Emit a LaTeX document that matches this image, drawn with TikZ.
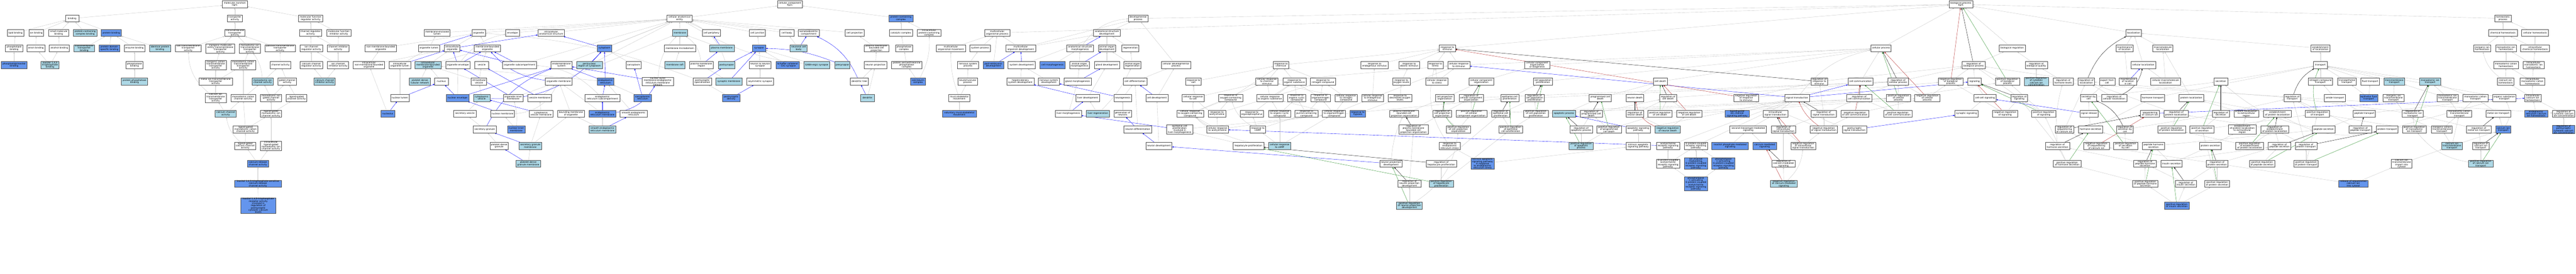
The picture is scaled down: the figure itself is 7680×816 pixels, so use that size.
\documentclass[tikz,border=0pt]{standalone}
\usepackage{fontspec}
\setmainfont{DejaVu Sans}
\usetikzlibrary{arrows.meta}
\definecolor{lbcol}{HTML}{ADD8E6}
\definecolor{blcol}{HTML}{6495ED}
\definecolor{egray}{HTML}{C4C4C4}
\definecolor{redc}{HTML}{B22222}
\definecolor{greenc}{HTML}{228B22}
\newcommand{\gofont}{\fontsize{6.8}{6.6}\selectfont}
\newcommand{\gon}[6]{\node[#5, minimum width=#4pt] (#1) at (#2,#3) {#6};}
\pgfdeclarelayer{edgelayer}
\pgfsetlayers{edgelayer,main}
\tikzset{
 gn/.style={draw=black!70, line width=0.9pt, fill=white, font=\gofont, align=center, inner xsep=1pt, inner ysep=0.3pt, minimum height=21pt},
 wn/.style={gn}, lbn/.style={gn, fill=lbcol}, bln/.style={gn, fill=blcol},
 e/.style={draw=egray, line width=0.6pt, -{Triangle[length=4.5pt,width=3.6pt]}},
 eb/.style={e, draw=blue}, er/.style={e, draw=redc}, eg/.style={e, draw=greenc}, ek/.style={e, draw=black}
}
\begin{document}
\begin{tikzpicture}[x=1pt,y=-1pt]
\useasboundingbox (0,0) rectangle (7680,816);
% ---------------- molecular function
\gon{mf}{700}{13}{74}{wn}{molecular\_function\\Itpr1}
\gon{bind}{215}{55}{40}{wn}{binding}
\gon{trans}{700}{55}{44}{wn}{transporter\\activity}
\gon{mfreg}{926}{55}{71}{wn}{molecular function\\regulator activity}
\gon{lipb}{46}{98}{49}{wn}{lipid binding}
\gon{ionb}{108}{98}{44}{wn}{ion binding}
\gon{smb}{175}{98}{60}{wn}{small molecule\\binding}
\gon{pccb}{254}{98}{71}{lbn}{protein-containing\\complex binding}
\gon{protb}{332}{98}{60}{bln}{protein binding}
\gon{tmta}{700}{98}{61}{wn}{transmembrane\\transporter\\activity}
\gon{chreg}{926}{98}{67}{wn}{channel regulator\\activity}
\gon{mfinh}{1010}{98}{72}{wn}{molecular function\\inhibitor activity}
\gon{melum}{1303}{98}{78}{wn}{membrane-enclosed\\lumen}
\gon{orgnl}{1427}{98}{40}{wn}{organelle}
\gon{env}{1528}{98}{42}{wn}{envelope}
\gon{ias}{1643}{98}{79}{wn}{intracellular\\anatomical structure}
\gon{plb}{42}{144}{51}{wn}{phospholipid\\binding}
\gon{anb}{107}{144}{53}{wn}{anion binding}
\gon{alcb}{177}{144}{60}{wn}{alcohol binding}
\gon{tmtb}{251}{144}{62}{lbn}{transmembrane\\transporter\\binding}
\gon{pdsb}{326}{144}{61}{bln}{protein domain\\specific binding}
\gon{enzb}{401}{144}{62}{wn}{enzyme binding}
\gon{idpb}{477}{144}{63}{lbn}{identical protein\\binding}
\gon{salt}{561}{144}{78}{wn}{salt transmembrane\\transporter\\activity}
\gon{imeta}{657}{145}{86}{wn}{inorganic molecular\\entity transmembrane\\transporter\\activity}
\gon{mita}{745}{145}{63}{wn}{monoatomic ion\\transmembrane\\transporter\\activity}
\gon{ptta}{835}{144}{91}{wn}{passive transmembrane\\transporter\\activity}
\gon{icra}{928}{144}{67}{wn}{ion channel\\regulator activity}
\gon{chinh}{1008}{144}{64}{wn}{channel inhibitor\\activity}
\gon{nmbo}{1135}{144}{93}{wn}{non-membrane-bounded\\organelle}
\gon{orglum}{1279}{144}{64}{wn}{organelle lumen}
\gon{iorg}{1348}{144}{46}{wn}{intracellular\\organelle}
\gon{mbo}{1453}{144}{78}{wn}{membrane-bounded\\organelle}
\gon{cyto}{1802}{144}{43}{bln}{cytoplasm}
\gon{phib}{42}{194}{78}{bln}{phosphatidylinositol\\binding}
\gon{ip3b}{149}{194}{53}{lbn}{inositol 1,4,5\\trisphosphate\\binding}
\gon{phosb}{401}{194}{51}{wn}{phosphatase\\binding}
\gon{icta}{643}{194}{62}{wn}{inorganic cation\\transmembrane\\transporter\\activity}
\gon{mcta}{725}{194}{74}{wn}{monoatomic cation\\transmembrane\\transporter\\activity}
\gon{cha}{836}{194}{62}{wn}{channel activity}
\gon{ccra}{928}{194}{67}{wn}{calcium channel\\regulator activity}
\gon{icia}{1008}{194}{63}{wn}{ion channel\\inhibitor activity}
\gon{inmbo}{1100}{194}{94}{wn}{intracellular\\non-membrane-bounded\\organelle}
\gon{iol}{1192}{194}{64}{wn}{intracellular\\organelle lumen}
\gon{imbo}{1276}{194}{78}{lbn}{intracellular\\membrane-bounded\\organelle}
\gon{oenv}{1365}{194}{73}{wn}{organelle envelope}
\gon{ves}{1436}{194}{41}{wn}{vesicle}
\gon{osub}{1549}{194}{102}{wn}{organelle subcompartment}
\gon{ems}{1674}{194}{62}{wn}{endomembrane\\system}
\gon{pnr}{1757}{194}{77}{lbn}{perinuclear\\region of cytoplasm}
\gon{sarcp}{1889}{194}{45}{wn}{sarcoplasm}
\gon{ppb}{401}{243}{78}{lbn}{protein phosphatase\\binding}
\gon{mitr}{643}{243}{99}{wn}{metal ion transmembrane\\transporter\\activity}
\gon{mica}{783}{243}{63}{lbn}{monoatomic ion\\channel activity}
\gon{gca}{856}{243}{55}{wn}{gated channel\\activity}
\gon{ccia}{968}{243}{63}{lbn}{calcium channel\\inhibitor activity}
\gon{pdtn}{1252}{243}{63}{lbn}{platelet dense\\tubular network}
\gon{nucl}{1316}{243}{40}{wn}{nucleus}
\gon{ives}{1428}{243}{46}{wn}{intracellular\\vesicle}
\gon{omem}{1666}{243}{80}{wn}{organelle membrane}
\gon{er}{1805}{243}{49}{bln}{endoplasmic\\reticulum}
\gon{nomer}{1961}{243}{93}{wn}{nuclear outer\\membrane-endoplasmic\\reticulum membrane\\network}
\gon{catia}{643}{292}{62}{wn}{calcium ion\\transmembrane\\transporter\\activity}
\gon{mcca}{725}{292}{74}{wn}{monoatomic cation\\channel activity}
\gon{migca}{808}{292}{63}{wn}{monoatomic ion\\gated channel\\activity}
\gon{lgca}{884}{292}{62}{wn}{ligand-gated\\channel activity}
\gon{nlum}{1192}{292}{56}{wn}{nuclear lumen}
\gon{nenv}{1364}{292}{67}{bln}{nuclear envelope}
\gon{cves}{1436}{292}{49}{lbn}{cytoplasmic\\vesicle}
\gon{oim}{1530}{292}{59}{wn}{organelle inner\\membrane}
\gon{vmem}{1609}{292}{71}{wn}{vesicle membrane}
\gon{ersub}{1796}{292}{103}{wn}{endoplasmic\\reticulum subcompartment}
\gon{sr}{1916}{292}{52}{bln}{sarcoplasmic\\reticulum}
\gon{cca}{673}{339}{63}{lbn}{calcium channel\\activity}
\gon{lgmica}{808}{339}{63}{wn}{ligand-gated\\monoatomic ion\\channel activity}
\gon{nucleolus}{1156}{339}{41}{bln}{nucleolus}
\gon{sves}{1386}{339}{67}{wn}{secretory vesicle}
\gon{nmem}{1498}{339}{72}{wn}{nuclear membrane}
\gon{cvm}{1613}{339}{71}{wn}{cytoplasmic\\vesicle membrane}
\gon{bmo}{1702}{339}{80}{wn}{bounding membrane\\of organelle}
\gon{erm}{1796}{339}{81}{bln}{endoplasmic\\reticulum membrane}
\gon{ser}{1889}{339}{80}{wn}{smooth endoplasmic\\reticulum}
\gon{lgmcca}{732}{386}{74}{wn}{ligand-gated\\monoatomic cation\\channel activity}
\gon{sgran}{1445}{386}{69}{wn}{secretory granule}
\gon{nim}{1539}{386}{52}{bln}{nuclear inner\\membrane}
\gon{serm}{1796}{386}{81}{lbn}{smooth endoplasmic\\reticulum membrane}
\gon{lgcca}{731}{435}{62}{wn}{ligand-gated\\calcium channel\\activity}
\gon{ilgmica}{808}{435}{63}{wn}{intracellular\\ligand-gated\\monoatomic ion\\channel activity}
\gon{pdg}{1488}{435}{55}{wn}{platelet dense\\granule}
\gon{sgm}{1581}{435}{68}{lbn}{secretory granule\\membrane}
\gon{crca}{769}{488}{62}{bln}{calcium-release\\channel activity}
\gon{pdgm}{1575}{488}{73}{lbn}{platelet dense\\granule membrane}
\gon{ip3s}{769}{548}{139}{bln}{inositol 1,4,5-trisphosphate-sensitive\\calcium-release\\channel activity}
\gon{ip3r}{770}{613}{103}{bln}{inositol 1,4,5-trisphosphate\\receptor activity\\involved in\\regulation of\\postsynaptic\\cytosolic calcium\\levels}
% ---------------- cellular component
\gon{cc}{2355}{13}{75}{wn}{cellular\_component\\Itpr1}
\gon{cae}{2026}{55}{75}{wn}{cellular anatomical\\entity}
\gon{pcc}{2686}{55}{71}{bln}{protein-containing\\complex}
\gon{mem}{2027}{98}{44}{lbn}{membrane}
\gon{cper}{2121}{98}{53}{wn}{cell periphery}
\gon{cjun}{2258}{98}{48}{wn}{cell junction}
\gon{cbody}{2346}{98}{42}{wn}{cell body}
\gon{sdc}{2411}{98}{63}{wn}{somatodendritic\\compartment}
\gon{cproj}{2548}{98}{56}{wn}{cell projection}
\gon{catc}{2686}{98}{69}{wn}{catalytic complex}
\gon{ipcc}{2770}{98}{71}{wn}{intracellular\\protein-containing\\complex}
\gon{mmd}{2027}{144}{93}{wn}{membrane microdomain}
\gon{pm}{2152}{144}{73}{lbn}{plasma membrane}
\gon{syn}{2263}{144}{40}{bln}{synapse}
\gon{ncb}{2381}{144}{51}{lbn}{neuronal cell\\body}
\gon{pmbcp}{2613}{144}{73}{wn}{plasma membrane\\bounded cell\\projection}
\gon{phc}{2695}{144}{50}{wn}{phosphatase\\complex}
\gon{mraft}{2012}{194}{59}{lbn}{membrane raft}
\gon{pmr}{2091}{194}{72}{wn}{plasma membrane\\region}
\gon{psyn}{2166}{194}{49}{lbn}{postsynapse}
\gon{nns}{2266}{194}{66}{wn}{neuron to neuron\\synapse}
\gon{scs}{2348}{194}{69}{bln}{Schaffer collateral\\- CA1 synapse}
\gon{gaba}{2435}{194}{78}{lbn}{GABA-ergic synapse}
\gon{presyn}{2511}{194}{45}{lbn}{presynapse}
\gon{nproj}{2610}{194}{68}{wn}{neuron projection}
\gon{pstpc}{2703}{194}{92}{wn}{protein serine/threonine\\phosphatase\\complex}
\gon{pss}{2094}{243}{55}{wn}{postsynaptic\\specialization}
\gon{smem}{2173}{243}{77}{lbn}{synaptic membrane}
\gon{asyn}{2266}{243}{80}{wn}{asymmetric synapse}
\gon{dtree}{2562}{243}{53}{wn}{dendritic tree}
\gon{calcin}{2737}{243}{44}{bln}{calcineurin\\complex}
\gon{psd}{2180}{292}{51}{bln}{postsynaptic\\density}
\gon{dend}{2586}{292}{42}{lbn}{dendrite}
% ---------------- biological process
\gon{bp}{5846}{13}{71}{wn}{biological\_process\\Itpr1}
\gon{mop}{2973}{98}{75}{wn}{multicellular\\organismal process}
\gon{dp}{3393}{55}{58}{wn}{developmental\\process}
\gon{mom}{2835}{144}{87}{wn}{multicellular\\organismal movement}
\gon{sysp}{2922}{144}{61}{wn}{system process}
\gon{mod}{3043}{144}{89}{wn}{multicellular\\organism development}
\gon{asd}{3300}{98}{80}{wn}{anatomical structure\\development}
\gon{asm}{3220}{144}{80}{wn}{anatomical structure\\morphogenesis}
\gon{aod}{3300}{144}{51}{wn}{animal organ\\development}
\gon{regen}{3370}{144}{50}{wn}{regeneration}
\gon{rstim}{4315}{144}{48}{wn}{response to\\stimulus}
\gon{nsp}{2886}{194}{63}{wn}{nervous system\\process}
\gon{ped}{2962}{194}{61}{bln}{post-embryonic\\development}
\gon{sysd}{3046}{194}{82}{wn}{system development}
\gon{cmorph}{3138}{194}{76}{bln}{cell morphogenesis}
\gon{aom}{3218}{194}{59}{wn}{animal organ\\morphogenesis}
\gon{glandd}{3300}{194}{75}{wn}{gland development}
\gon{aor}{3376}{194}{51}{wn}{animal organ\\regeneration}
\gon{cdp}{3506}{194}{87}{wn}{cellular developmental\\process}
\gon{rchem}{3819}{194}{46}{wn}{response to\\chemical}
\gon{resti}{4098}{194}{81}{wn}{response to\\endogenous stimulus}
\gon{rabio}{4201}{194}{62}{wn}{response to\\abiotic stimulus}
\gon{rstress}{4279}{194}{46}{wn}{response to\\stress}
\gon{crstim}{4349}{194}{66}{wn}{cellular response\\to stimulus}
\gon{ccob}{4583}{194}{74}{wn}{cellular component\\organization\\or biogenesis}
\gon{nmp}{2885}{243}{57}{wn}{neuromuscular\\process}
\gon{hbsd}{3042}{243}{81}{wn}{hepaticobiliary\\system development}
\gon{nsd}{3127}{243}{63}{wn}{nervous system\\development}
\gon{gmorph}{3213}{243}{82}{wn}{gland morphogenesis}
\gon{cdiff}{3384}{243}{71}{wn}{cell differentiation}
\gon{rsalt}{3558}{243}{46}{wn}{response to\\salt}
\gon{crcs}{3777}{243}{66}{wn}{cellular response\\to chemical\\stimulus}
\gon{ros}{3859}{243}{69}{wn}{response to\\organic substance}
\gon{rnc}{3944}{243}{75}{wn}{response to\\nitrogen compound}
\gon{rol}{4178}{243}{53}{wn}{response to\\oxygen levels}
\gon{crstress}{4284}{243}{66}{wn}{cellular response\\to stress}
\gon{cco}{4416}{243}{73}{wn}{cellular component\\organization}
\gon{cpp}{4600}{243}{57}{wn}{cell population\\proliferation}
\gon{cdeath}{4950}{243}{41}{wn}{cell death}
\gon{msm}{2860}{292}{63}{wn}{musculoskeletal\\movement}
\gon{ldev}{3243}{292}{71}{wn}{liver development}
\gon{neurog}{3347}{292}{53}{wn}{neurogenesis}
\gon{celldev}{3449}{292}{66}{wn}{cell development}
\gon{crsalt}{3557}{292}{67}{wn}{cellular response\\to salt}
\gon{rocc}{3669}{292}{71}{wn}{response to\\oxygen-containing\\compound}
\gon{cros}{3786}{292}{79}{wn}{cellular response\\to organic substance}
\gon{rocyc}{3866}{292}{53}{wn}{response to\\organic cyclic\\compound}
\gon{ronc}{3937}{292}{59}{wn}{response to\\organonitrogen\\compound}
\gon{crnc}{4013}{292}{65}{wn}{cellular response\\to nitrogen\\compound}
\gon{cres}{4092}{292}{65}{wn}{cellular response\\to endogenous\\stimulus}
\gon{rdol}{4174}{292}{70}{wn}{response to\\decreased oxygen\\levels}
\gon{cpo}{4307}{292}{55}{wn}{cell projection\\organization}
\gon{rcco}{4386}{292}{72}{wn}{regulation of\\cellular component\\organization}
\gon{ecp}{4501}{292}{54}{wn}{epithelial cell\\proliferation}
\gon{rcpp}{4575}{292}{57}{wn}{regulation of\\cell population\\proliferation}
\gon{pcd}{4771}{292}{66}{wn}{programmed cell\\death}
\gon{ndeath}{4874}{292}{52}{wn}{neuron death}
\gon{rcd}{4973}{292}{50}{wn}{regulation of\\cell death}
\gon{vmm}{2860}{339}{101}{bln}{voluntary musculoskeletal\\movement}
\gon{lmorph}{3185}{339}{78}{wn}{liver morphogenesis}
\gon{lregen}{3273}{339}{69}{lbn}{liver regeneration}
\gon{gneur}{3347}{339}{53}{wn}{generation of\\neurons}
\gon{crocc}{3548}{339}{80}{wn}{cellular response\\to oxygen-containing\\compound}
\gon{rach}{3628}{339}{52}{wn}{response to\\acetylcholine}
\gon{ropp}{3732}{339}{70}{wn}{response to\\organophosphorus}
\gon{crocyc}{3815}{339}{66}{wn}{cellular response\\to organic cyclic\\compound}
\gon{rpcc}{3895}{339}{68}{wn}{response to\\purine-containing\\compound}
\gon{cronc}{3977}{339}{69}{wn}{cellular response\\to organonitrogen\\compound}
\gon{rhyp}{4048}{339}{47}{bln}{response to\\hypoxia}
\gon{pmbcpo}{4186}{339}{87}{wn}{plasma membrane\\bounded cell\\projection organization}
\gon{rcpo}{4300}{339}{55}{wn}{regulation of\\cell projection\\organization}
\gon{prcco}{4387}{339}{92}{wn}{positive regulation\\of cellular\\component organization}
\gon{recp}{4474}{339}{53}{wn}{regulation of\\epithelial cell\\proliferation}
\gon{prcpp}{4579}{339}{73}{wn}{positive regulation\\of cell population\\proliferation}
\gon{apop}{4663}{339}{68}{lbn}{apoptotic process}
\gon{rpcd}{4744}{339}{66}{wn}{regulation of\\programmed cell\\death}
\gon{rnd}{4874}{339}{52}{wn}{regulation of\\neuron death}
\gon{prcd}{4949}{339}{72}{wn}{positive regulation\\of cell death}
\gon{nrcd}{5036}{339}{76}{wn}{negative regulation\\of cell death}
\gon{ndiff}{3392}{386}{83}{wn}{neuron differentiation}
\gon{ecpl}{3517}{386}{77}{wn}{epithelial cell\\proliferation\\involved in\\liver morphogenesis}
\gon{crach}{3630}{386}{65}{wn}{cellular response\\to acetylcholine}
\gon{rcamp}{3750}{386}{47}{wn}{response to\\cAMP}
\gon{rpmbcpo}{4214}{386}{88}{wn}{regulation of\\plasma membrane\\bounded cell\\projection organization}
\gon{prcpo}{4348}{386}{72}{wn}{positive regulation\\of cell projection\\organization}
\gon{prep}{4504}{386}{71}{wn}{positive regulation\\of epithelial\\cell proliferation}
\gon{rap}{4714}{386}{68}{wn}{regulation of\\apoptotic process}
\gon{prpcd}{4797}{386}{73}{wn}{positive regulation\\of programmed\\cell death}
\gon{asp}{4884}{386}{73}{wn}{apoptotic signaling\\pathway}
\gon{nrnd}{4972}{386}{75}{lbn}{negative regulation\\of neuron death}
\gon{ndev}{3455}{435}{78}{wn}{neuron development}
\gon{hprol}{3722}{435}{91}{wn}{hepatocyte proliferation}
\gon{crcamp}{3815}{435}{66}{lbn}{cellular response\\to cAMP}
\gon{rers}{4322}{435}{62}{wn}{response to\\endoplasmic\\reticulum stress}
\gon{prap}{4714}{435}{72}{lbn}{positive regulation\\of apoptotic\\process}
\gon{iasp}{4884}{435}{71}{wn}{intrinsic apoptotic\\signaling pathway}
\gon{achr}{4973}{435}{69}{wn}{acetylcholine\\receptor signaling\\pathway}
\gon{gpcr}{5056}{435}{70}{wn}{G protein-coupled\\receptor signaling\\pathway}
\gon{ipms}{5158}{435}{109}{bln}{inositol phosphate-mediated\\signaling}
\gon{npd}{4147}{488}{67}{wn}{neuron projection\\development}
\gon{rhp}{4297}{488}{91}{wn}{regulation of\\hepatocyte proliferation}
\gon{iaper}{4420}{488}{70}{bln}{intrinsic apoptotic\\signaling pathway\\in response\\to endoplasmic\\reticulum stress}
\gon{gpach}{4973}{488}{69}{wn}{G protein-coupled\\acetylcholine\\receptor signaling\\pathway}
\gon{icmg}{5056}{488}{70}{bln}{ion channel\\modulating,\\G protein-coupled\\receptor signaling\\pathway}
\gon{plcg}{5138}{488}{69}{bln}{phospholipase\\C-activating\\G protein-coupled\\receptor signaling\\pathway}
\gon{rnpd}{4202}{548}{68}{wn}{regulation of\\neuron projection\\development}
\gon{prhp}{4297}{548}{72}{lbn}{positive regulation\\of hepatocyte\\proliferation}
\gon{plcach}{5056}{548}{70}{bln}{phospholipase\\C-activating\\G protein-coupled\\acetylcholine\\receptor signaling\\pathway}
\gon{prnpd}{4202}{613}{77}{lbn}{positive regulation\\of neuron projection\\development}
\gon{cproc}{5608}{144}{60}{wn}{cellular process}
\gon{rrs}{5424}{243}{50}{wn}{regulation of\\response to\\stimulus}
\gon{ccomm}{5547}{243}{75}{wn}{cell communication}
\gon{rcp}{5659}{243}{60}{wn}{regulation of\\cellular process}
\gon{nrrs}{5206}{292}{75}{wn}{negative regulation\\of response\\to stimulus}
\gon{st}{5358}{292}{74}{wn}{signal transduction}
\gon{rcc}{5543}{292}{76}{wn}{regulation of\\cell communication}
\gon{prcp}{5660}{292}{73}{wn}{positive regulation\\of cellular\\process}
\gon{nrcp}{5746}{292}{75}{wn}{negative regulation\\of cellular\\process}
\gon{lgics}{5179}{339}{71}{bln}{ligand-gated\\ion channel\\signaling pathway}
\gon{ist}{5293}{339}{74}{wn}{intracellular\\signal transduction}
\gon{rst}{5437}{339}{74}{wn}{regulation of\\signal transduction}
\gon{nrcc}{5530}{339}{83}{wn}{negative regulation\\of cell communication}
\gon{prcc}{5658}{339}{84}{wn}{positive regulation\\of cell communication}
\gon{smms}{5212}{386}{109}{wn}{second-messenger-mediated\\signaling}
\gon{rist}{5317}{386}{73}{wn}{regulation of\\intracellular\\signal transduction}
\gon{nrst}{5437}{386}{82}{wn}{negative regulation\\of signal transduction}
\gon{pst}{5529}{386}{73}{wn}{postsynaptic\\signal transduction}
\gon{cms}{5261}{435}{70}{bln}{calcium-mediated\\signaling}
\gon{nrist}{5376}{435}{74}{wn}{negative regulation\\of intracellular\\signal transduction}
\gon{rcms}{5317}{488}{70}{wn}{regulation of\\calcium-mediated\\signaling}
\gon{nrcms}{5318}{548}{80}{lbn}{negative regulation\\of calcium-mediated\\signaling}
\gon{loc}{6361}{98}{46}{wn}{localization}
\gon{breg}{5999}{144}{78}{wn}{biological regulation}
\gon{mloc}{6334}{144}{51}{wn}{maintenance\\of location}
\gon{macloc}{6448}{144}{60}{wn}{macromolecule\\localization}
\gon{eloc}{6918}{144}{56}{wn}{establishment\\of localization}
\gon{rbp}{5884}{194}{69}{wn}{regulation of\\biological process}
\gon{rbq}{6071}{194}{66}{wn}{regulation of\\biological quality}
\gon{cloc}{6390}{194}{75}{wn}{cellular localization}
\gon{transp}{6918}{194}{41}{wn}{transport}
\gon{nrbp}{5816}{243}{74}{wn}{negative regulation\\of biological\\process}
\gon{sig}{5887}{243}{40}{wn}{signaling}
\gon{prbp}{5985}{243}{72}{wn}{positive regulation\\of biological\\process}
\gon{prccic}{6071}{243}{72}{lbn}{positive regulation\\of cytosolic\\calcium ion\\concentration}
\gon{rhl}{6151}{243}{59}{wn}{regulation of\\hormone levels}
\gon{rloc}{6220}{243}{49}{wn}{regulation of\\localization}
\gon{efc}{6282}{243}{46}{wn}{export from\\cell}
\gon{mlic}{6344}{243}{51}{wn}{maintenance\\of location\\in cell}
\gon{cmloc}{6456}{243}{89}{wn}{cellular macromolecule\\localization}
\gon{secr}{6621}{243}{41}{wn}{secretion}
\gon{nct}{6918}{243}{72}{wn}{nitrogen compound\\transport}
\gon{tet}{6997}{243}{55}{wn}{transepithelial\\transport}
\gon{ftr}{7066}{243}{54}{wn}{fluid transport}
\gon{tmt}{7138}{243}{62}{lbn}{transmembrane\\transport}
\gon{mit}{7245}{243}{64}{lbn}{monoatomic ion\\transport}
\gon{ccs}{5918}{292}{67}{wn}{cell-cell signaling}
\gon{rsig}{6020}{292}{49}{wn}{regulation of\\signaling}
\gon{sbc}{6227}{292}{48}{wn}{secretion by\\cell}
\gon{rcl}{6303}{292}{75}{wn}{regulation of\\cellular localization}
\gon{htr}{6418}{292}{71}{wn}{hormone transport}
\gon{ploc}{6533}{292}{73}{wn}{protein localization}
\gon{rtr}{6834}{292}{49}{wn}{regulation of\\transport}
\gon{amtr}{6961}{292}{62}{wn}{amide transport}
\gon{eft}{7062}{292}{55}{bln}{epithelial fluid\\transport}
\gon{iitt}{7136}{292}{63}{wn}{inorganic ion\\transmembrane\\transport}
\gon{synsig}{5863}{339}{69}{wn}{synaptic signaling}
\gon{nrsig}{5978}{339}{75}{wn}{negative regulation\\of signaling}
\gon{prsig}{6093}{339}{71}{wn}{positive regulation\\of signaling}
\gon{srel}{6228}{339}{55}{wn}{signal release}
\gon{seqca}{6410}{339}{57}{wn}{sequestering\\of calcium ion}
\gon{rpl}{6488}{339}{73}{wn}{regulation of\\protein localization}
\gon{rsec}{6621}{339}{50}{wn}{regulation of\\secretion}
\gon{pler}{6697}{339}{73}{wn}{protein localization\\to extracellular\\region}
\gon{epl}{6790}{339}{83}{wn}{establishment\\of protein localization}
\gon{prtr}{6909}{339}{72}{wn}{positive regulation\\of transport}
\gon{pept}{7049}{339}{66}{wn}{peptide transport}
\gon{rmit}{7193}{339}{63}{wn}{regulation of\\monoatomic ion\\transport}
\gon{rseqca}{6155}{386}{55}{wn}{regulation of\\sequestering\\of calcium ion}
\gon{hsec}{6233}{386}{73}{wn}{hormone secretion}
\gon{rsbc}{6335}{386}{49}{wn}{regulation of\\secretion by\\cell}
\gon{prpl}{6474}{386}{83}{wn}{positive regulation\\of protein localization}
\gon{prsec}{6565}{386}{72}{wn}{positive regulation\\of secretion}
\gon{epler}{6685}{386}{84}{wn}{establishment\\of protein localization\\to extracellular\\region}
\gon{repl}{6782}{386}{83}{wn}{regulation of\\establishment\\of protein localization}
\gon{psec}{6928}{386}{67}{wn}{peptide secretion}
\gon{rpt}{7037}{386}{67}{wn}{regulation of\\peptide transport}
\gon{ptr}{7117}{386}{65}{wn}{protein transport}
\gon{rhs}{6134}{435}{72}{wn}{regulation of\\hormone secretion}
\gon{nrseqca}{6250}{435}{76}{wn}{negative regulation\\of sequestering\\of calcium ion}
\gon{prsbc}{6337}{435}{72}{wn}{positive regulation\\of secretion\\by cell}
\gon{phsec}{6420}{435}{66}{wn}{peptide hormone\\secretion}
\gon{protsec}{6590}{435}{64}{wn}{protein secretion}
\gon{prepl}{6707}{435}{83}{wn}{positive regulation\\of establishment\\of protein localization}
\gon{rpsec}{6796}{435}{67}{wn}{regulation of\\peptide secretion}
\gon{rprt}{6875}{435}{65}{wn}{regulation of\\protein transport}
\gon{prhs}{6163}{488}{82}{wn}{positive regulation\\of hormone secretion}
\gon{rphs}{6395}{488}{67}{wn}{regulation of\\peptide hormone\\secretion}
\gon{inss}{6474}{488}{64}{wn}{insulin secretion}
\gon{rprs}{6610}{488}{64}{wn}{regulation of\\protein secretion}
\gon{prpsec}{6744}{488}{76}{wn}{positive regulation\\of peptide secretion}
\gon{prprt}{6875}{488}{73}{wn}{positive regulation\\of protein transport}
\gon{citic}{7160}{488}{62}{wn}{calcium ion\\transmembrane\\import into\\cytosol}
\gon{prphs}{6396}{548}{75}{wn}{positive regulation\\of peptide hormone\\secretion}
\gon{ris}{6517}{548}{63}{wn}{regulation of\\insulin secretion}
\gon{prprs}{6610}{548}{74}{wn}{positive regulation\\of protein secretion}
\gon{rseq}{7016}{548}{87}{bln}{release of sequestered\\calcium ion\\into cytosol}
\gon{pris}{6490}{613}{73}{bln}{positive regulation\\of insulin secretion}
\gon{homeo}{7462}{55}{49}{wn}{homeostatic\\process}
\gon{chomeo}{7462}{98}{85}{wn}{chemical homeostasis}
\gon{celhomeo}{7558}{98}{80}{wn}{cellular homeostasis}
\gon{iih}{7400}{144}{51}{wn}{inorganic ion\\homeostasis}
\gon{mih}{7471}{144}{62}{wn}{monoatomic ion\\homeostasis}
\gon{ich}{7558}{144}{86}{wn}{intracellular\\chemical homeostasis}
\gon{mch}{7471}{194}{74}{wn}{monoatomic cation\\homeostasis}
\gon{imih}{7553}{194}{63}{wn}{intracellular\\monoatomic ion\\homeostasis}
\gon{cih}{7470}{243}{50}{wn}{calcium ion\\homeostasis}
\gon{imch}{7550}{243}{74}{wn}{intracellular\\monoatomic cation\\homeostasis}
\gon{mitt}{7297}{292}{63}{wn}{monoatomic ion\\transmembrane\\transport}
\gon{mct}{7380}{292}{74}{wn}{monoatomic cation\\transport}
\gon{ost}{7466}{292}{69}{wn}{organic substance\\transport}
\gon{icih}{7551}{292}{49}{wn}{intracellular\\calcium ion\\homeostasis}
\gon{mctt}{7332}{339}{74}{wn}{monoatomic cation\\transmembrane\\transport}
\gon{meit}{7448}{339}{74}{wn}{metal ion transport}
\gon{ercih}{7561}{339}{69}{bln}{endoplasmic\\reticulum calcium\\ion homeostasis}
\gon{rccic}{7643}{339}{66}{wn}{regulation of\\cytosolic calcium\\ion concentration}
\gon{prmit}{7198}{386}{72}{wn}{positive regulation\\of monoatomic\\ion transport}
\gon{ictt}{7280}{386}{61}{wn}{inorganic cation\\transmembrane\\transport}
\gon{rmeit}{7390}{386}{73}{wn}{regulation of\\metal ion transport}
\gon{cit}{7463}{386}{45}{bln}{calcium ion\\transport}
\gon{rpccic}{7643}{386}{66}{bln}{regulation of\\postsynaptic\\cytosolic calcium\\ion concentration}
\gon{citt}{7310}{435}{61}{lbn}{calcium ion\\transmembrane\\transport}
\gon{rcit}{7396}{435}{50}{wn}{regulation of\\calcium ion\\transport}
\gon{prcit}{7396}{488}{73}{lbn}{positive regulation\\of calcium ion\\transport}
% ---------------- edges
\begin{pgfonlayer}{edgelayer}
\foreach \a/\b in {bind/mf, trans/mf, mfreg/mf, lipb/bind, ionb/bind, smb/bind, pccb/bind, protb/bind, tmta/trans, chreg/mfreg, mfinh/mfreg, plb/lipb, anb/ionb, alcb/smb, tmtb/protb, pdsb/protb, enzb/protb, idpb/protb, salt/tmta, imeta/tmta, mita/tmta, ptta/tmta, icra/chreg, chinh/chreg, chinh/mfinh, phib/plb, ip3b/anb, ip3b/alcb, phosb/enzb, ppb/phosb, icta/imeta, mcta/mita, cha/ptta, ccra/icra, icia/icra, icia/chinh, mitr/icta, mitr/mcta, mica/cha, gca/cha, ccia/ccra, ccia/icia, catia/mitr, mcca/mica, mcca/mcta, migca/mica, migca/gca, lgca/gca, cca/catia, cca/mcca, lgmica/migca, lgmica/lgca, lgmcca/lgmica, lgmcca/mcca, lgcca/lgmcca, ilgmica/lgmica, crca/lgcca, crca/ilgmica, ip3s/crca, ip3r/ip3s}
  \draw[e] (\a) -- (\b);
\draw[e] (catia) to[bend left=25] (salt);
\draw[e] (mica) to[bend right=15] (mita);
\draw[e] (lgcca) to[bend left=20] (cca);
\foreach \a/\b in {cae/cc, pcc/cc, melum/cae, orgnl/cae, env/cae, ias/cae, cyto/cae, ems/cae, pnr/cae, osub/cae, orglum/melum, iorg/orgnl, mbo/orgnl, nmbo/orgnl, inmbo/nmbo, inmbo/iorg, iol/orglum, imbo/iorg, imbo/mbo, ves/mbo, pdtn/imbo, nlum/iol, nucleolus/inmbo, nucl/imbo, ives/ves, ives/imbo, er/imbo, sarcp/cyto, nenv/oenv, cves/ives, oim/omem, vmem/omem, sr/er, sves/cves, cvm/vmem, bmo/omem, erm/omem, ser/er, sgran/sves, nim/nmem, serm/erm, serm/bmo, pdg/sgran, sgm/cvm, sgm/bmo, pdgm/sgm, omem/mem, mem/cae, cper/cae, cjun/cae, cbody/cae, sdc/cae, cproj/cae, mmd/mem, pm/mem, mraft/mmd, syn/cjun, ncb/cbody, nns/syn, scs/syn, gaba/syn, smem/pmr, asyn/nns, psd/pss, catc/pcc, ipcc/pcc, pmbcp/cproj, phc/catc, nproj/pmbcp, pstpc/phc, dtree/nproj, dend/nproj, calcin/pstpc}
  \draw[e] (\a) -- (\b);
\draw[e] (oenv) to[bend left=20] (env);
\draw[e] (ersub) to[bend right=20] (osub);
\draw[e] (nmem) to[bend right=30] (omem);
\draw[e] (nim) to[bend right=10] (oim);
\draw[e] (nomer) to[bend left=20] (mem);
\draw[e] (pss) to[bend right=8] (orgnl);
\draw[e] (pmr) to[bend right=25] (mem);
\draw[e] (psyn) to[bend right=25] (cae);
\draw[e] (presyn) to[bend left=15] (cae);
\draw[e] (calcin) to[bend right=15] (ipcc);
\foreach \a/\b in {iorg/ias, orglum/orgnl, iol/iorg, oenv/iorg, oenv/mbo, osub/iorg, osub/mbo, cyto/ias, pnr/cyto, er/cyto, er/ems, nomer/ems, nenv/nucl, nenv/ems, oim/oenv, vmem/ves, ersub/er, sr/sarcp, nmem/nenv, cvm/cves, erm/ersub, nucleolus/nlum, nlum/nucl, serm/ser, sgm/sgran, pdgm/pdg, pm/cper, pmr/pm, psyn/syn, ncb/sdc, pss/psyn, smem/syn, psd/asyn, dend/dtree}
  \draw[eb] (\a) -- (\b);
\draw[eb] (omem) to[bend left=20] (mbo);
\draw[eb] (cves) to[bend right=25] (cyto);
\draw[eb] (sgran) to[bend left=20] (ems);
\draw[eb] (erm) to[bend right=25] (nomer);
\draw[eb] (presyn) to[bend right=10] (syn);
\draw[eb] (dtree) to[bend right=20] (sdc);
% biological process, gray
\foreach \a/\b in {mop/bp, dp/bp, rstim/bp, cproc/bp, loc/bp, homeo/bp, breg/bp, mom/mop, sysp/mop, mod/mop, ped/mop, mod/dp, cdp/dp, asd/dp, sysd/asd, mod/asd, aod/asd, regen/asd, glandd/aod, aor/aod, aor/regen, aom/asm, cmorph/asm, cdiff/cdp, celldev/cdp, nsp/sysp, nmp/nsp, msm/nmp, vmm/msm, hbsd/sysd, nsd/sysd, gmorph/aom, ldev/glandd, lmorph/gmorph, lregen/ldev, neurog/cdiff, gneur/neurog, ndiff/cdiff, ndev/celldev, ecpl/ecp, hprol/ecpl}
  \draw[e] (\a) -- (\b);
\draw[e] (asm) to[bend left=25] (dp);
\draw[e] (msm) to[bend left=10] (mom);
\draw[e] (lregen) to[bend right=10] (aor);
\foreach \a/\b in {rchem/rstim, rsalt/rchem, crcs/rchem, crcs/crstim, ros/rchem, rnc/rchem, rocc/rchem, crsalt/rsalt, crsalt/crcs, cros/crcs, cros/ros, rocyc/ros, ronc/ros, ronc/rnc, crnc/rnc, crnc/crcs, crocc/rocc, crocc/crcs, rach/rocc, rach/rnc, ropp/ros, crocyc/rocyc, crocyc/cros, rpcc/rocyc, rpcc/ronc, cronc/ronc, cronc/crnc, cronc/cros, cronc/cres, crach/rach, crach/crocc, crach/cronc, rcamp/ropp, rcamp/rpcc, crcamp/rcamp, crcamp/crocyc, crcamp/cronc, resti/rstim, rabio/rstim, rstress/rstim, crstim/rstim, crstim/cproc, rol/rabio, crstress/rstress, crstress/crstim, rdol/rol, rhyp/rdol, cres/resti, cres/crstim, iaper/rers, iaper/iasp}
  \draw[e] (\a) -- (\b);
\draw[e] (rach) to[bend left=30] (rsalt);
\draw[e] (crach) to[bend left=35] (crsalt);
\draw[e] (rcamp) to[bend left=20] (rocc);
\draw[e] (crcamp) to[bend left=15] (crocc);
\draw[e] (rers) to[bend left=25] (rstress);
\foreach \a/\b in {cco/ccob, ccob/cproc, cpo/cco, pmbcpo/cpo, rcco/rcp, rcpo/rcco, prcco/rcco, prcco/prcp, rpmbcpo/rcpo, prcpo/rcpo, prcpo/prcco, rnpd/rpmbcpo, prnpd/rnpd, rhp/recp, prhp/rhp, prhp/prep, cpp/cproc, cdeath/cproc, ecp/cpp, rcpp/rcp, pcd/cdeath, ndeath/cdeath, rcd/rcp, recp/rcpp, prcpp/rcpp, prcpp/prcp, apop/pcd, rpcd/rcd, rnd/rcd, prcd/rcd, prcd/prcp, nrcd/rcd, nrcd/nrcp, prep/recp, prep/prcpp, rap/rpcd, prpcd/rpcd, prpcd/prcd, asp/st, nrnd/rnd, nrnd/nrcd, prap/rap, prap/prpcd, iasp/asp, achr/st, gpcr/st, gpach/achr, gpach/gpcr, icmg/gpcr, plcg/gpcr, plcach/gpach, plcach/plcg, ipms/smms}
  \draw[e] (\a) -- (\b);
\draw[e] (npd) to[bend left=10] (pmbcpo);
\draw[e] (prnpd) to[bend right=25] (prcpo);
\foreach \a/\b in {ccomm/cproc, rrs/rbp, rcp/rbp, nrrs/rrs, nrrs/nrbp, rcc/rcp, prcp/rcp, prcp/prbp, nrcp/rcp, nrcp/nrbp, lgics/st, ist/st, rst/rcc, rst/rrs, nrcc/rcc, nrcc/nrcp, prcc/rcc, prcc/prcp, smms/ist, rist/rst, nrst/rst, nrst/nrcc, nrst/nrrs, cms/smms, nrist/rist, nrist/nrst, rcms/rist, nrcms/rcms}
  \draw[e] (\a) -- (\b);
\draw[e] (st) to[bend left=20] (cproc);
\draw[e] (pst) to[bend left=15] (st);
\draw[e] (nrcms) to[bend right=20] (nrist);
\foreach \a/\b in {rbp/breg, rbq/breg, nrbp/rbp, sig/rbp, prbp/rbp, prccic/rbq, rhl/rbq, rloc/rbp, mlic/mloc, mloc/loc, cloc/loc, ccs/sig, rsig/rbp, sbc/efc, sbc/secr, rcl/rloc, synsig/ccs, nrsig/rsig, nrsig/nrbp, prsig/rsig, prsig/prbp, srel/sbc, rseqca/rloc, hsec/srel, hsec/htr, rsbc/rsec, rhs/rsig, nrseqca/rseqca, prsbc/rsbc, phsec/hsec, phsec/psec, prhs/rhs, prhs/prsig, rphs/rhs, rphs/rpsec, prphs/rphs, prphs/prhs}
  \draw[e] (\a) -- (\b);
\draw[e] (rhs) to[bend left=10] (rhl);
\foreach \a/\b in {macloc/loc, eloc/loc, transp/eloc, cmloc/macloc, cmloc/cloc, secr/transp, nct/transp, tet/transp, ftr/transp, tmt/transp, mit/transp, ost/transp, htr/transp, ploc/macloc, rtr/rloc, amtr/nct, eft/ftr, eft/tet, rpl/rloc, rsec/rtr, pler/ploc, epl/ploc, prtr/rtr, pept/amtr, prpl/rpl, prsec/rsec, prsec/prtr, epler/pler, epler/epl, repl/rpl, psec/pept, rpt/rtr, protsec/epler, prepl/repl, prepl/prpl, rpsec/repl, rprt/repl, rprt/rtr, inss/phsec, inss/protsec, rprs/rpsec, prpsec/rpsec, prprt/rprt, prprt/prtr, ris/rphs, ris/rprs, prprs/rprs, prprs/prsec, pris/ris, pris/prphs, pris/prprs, rseq/citic, rseq/nrseqca}
  \draw[e] (\a) -- (\b);
\draw[e] (psec) to[bend left=15] (secr);
\foreach \a/\b in {chomeo/homeo, celhomeo/homeo, iih/chomeo, mih/chomeo, ich/chomeo, ich/celhomeo, mch/mih, imih/mih, imih/ich, cih/mch, imch/imih, imch/mch, icih/cih, icih/imch, ercih/icih, rccic/icih, rpccic/rccic, prccic/rccic, iitt/tmt, mitt/tmt, mitt/mit, mct/mit, rmit/rtr, mctt/mitt, mctt/mct, meit/mct, ptr/ost, prmit/rmit, prmit/prtr, ictt/mctt, rmeit/rmit, cit/meit, citt/ictt, citt/mctt, citt/cit, rcit/rmeit, citic/citt, prcit/rcit, pept/ost}
  \draw[e] (\a) -- (\b);
\draw[e] (cih) to[bend left=20] (iih);
\draw[e] (ictt) to[bend left=20] (iitt);
\draw[e] (cit) to[bend right=30] (ost);
\draw[e] (prcit) to[bend left=20] (prmit);
\draw[e] (ptr) to[bend left=20] (epl);
% part_of (blue)
\foreach \a/\b in {asm/asd, aom/aod, ped/mod, sysd/mod, gmorph/glandd, ldev/hbsd, neurog/nsd, lmorph/ldev, celldev/cdiff, ndiff/gneur, ndev/ndiff, ecpl/lmorph, npd/ndev, asp/apop, achr/crach, st/ccomm, st/crstim, st/sig, pst/synsig, mlic/cloc, srel/ccs, seqca/icih}
  \draw[eb] (\a) -- (\b);
% regulates (black)
\foreach \a/\b in {rcco/cco, rcpo/cpo, rpmbcpo/pmbcpo, rnpd/npd, rhp/hprol, rcpp/cpp, rcd/cdeath, recp/ecp, rpcd/pcd, rnd/ndeath, rap/apop, rrs/rstim, rcp/cproc, rcc/ccomm, rst/st, rist/ist, rcms/cms, rbp/bp, rsig/sig, rseqca/seqca, rhs/hsec, rphs/phsec, rpl/ploc, rsec/secr, repl/epl, rpt/pept, rpsec/psec, rprs/protsec, ris/inss, rmit/mit, rmeit/meit, rcit/cit, rprt/ptr}
  \draw[ek] (\a) -- (\b);
\draw[ek] (rloc) to[bend left=20] (loc);
\draw[ek] (rcl) to[bend right=25] (cloc);
\draw[ek] (rsbc) to[bend right=20] (sbc);
\draw[ek] (rtr) to[bend left=20] (transp);
% negatively regulates (red)
\foreach \a/\b in {nrrs/rstim, nrcp/cproc, nrbp/bp, nrcd/cdeath, nrcc/ccomm, nrist/ist, nrcms/cms, nrsig/sig, nrseqca/seqca}
  \draw[er] (\a) -- (\b);
\draw[er] (nrnd) to[bend left=30] (ndeath);
\draw[er] (nrst) to[bend left=15] (st);
% positively regulates (green)
\foreach \a/\b in {prcco/cco, prnpd/npd, prhp/hprol, prcpp/cpp, prcd/cdeath, prep/ecp, prpcd/pcd, prap/apop, prcp/cproc, prcc/ccomm, prbp/bp, prsig/sig, prsbc/sbc, prhs/hsec, prphs/phsec, prsec/secr, prpl/ploc, prepl/epl, prpsec/psec, prprt/ptr, prprs/protsec, pris/inss, prmit/mit, prcit/cit}
  \draw[eg] (\a) -- (\b);
\draw[eg] (prcpo) to[bend left=30] (cpo);
\draw[eg] (prtr) to[bend left=20] (transp);
\end{pgfonlayer}
\end{tikzpicture}
\end{document}
